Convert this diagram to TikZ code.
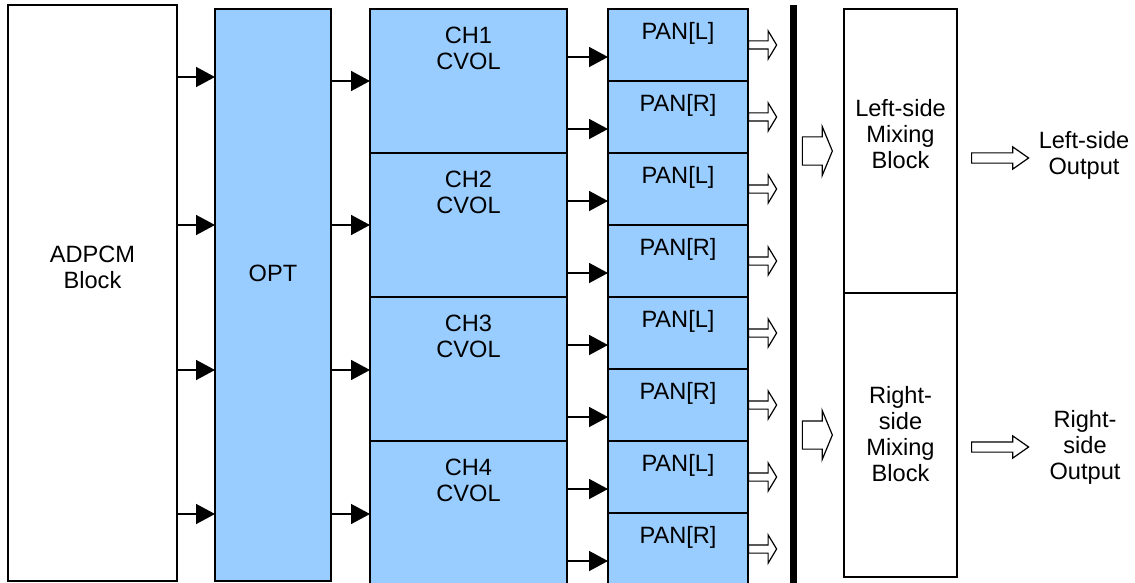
\documentclass[tikz,border=0pt]{standalone}
\usepackage{fontspec}
\setmainfont{Liberation Sans}
\usetikzlibrary{arrows.meta,positioning,shapes.arrows}
\definecolor{paleblue}{HTML}{99CCFF}

\begin{document}
\begin{tikzpicture}[x=1pt,y=-1pt,>={Triangle[length=19pt,width=20pt]},node distance=0pt,
box/.style={draw,line width=1.5pt,fill=white,inner sep=0pt,outer sep=0pt,anchor=north west},
unit/.style={box,fill=paleblue},
chbox/.style={unit,minimum width=197pt,minimum height=144pt},
panbox/.style={unit,minimum width=140pt,minimum height=72pt},
mixbox/.style={box,minimum width=113pt,minimum height=284pt},
lbl/.style={inner sep=0pt,align=center,font=\fontsize{23.6}{26}\selectfont},
feed/.style={->,line width=1.5pt},
hollow/.style={single arrow,draw,line width=1.2pt,fill=white,inner xsep=0pt,anchor=tail},
panout/.style={hollow,minimum height=28pt,inner ysep=3.5pt,single arrow head extend=10pt,single arrow tip angle=118},
mixin/.style={hollow,minimum height=30pt,inner ysep=13.5pt,single arrow head extend=10.5pt,single arrow tip angle=135},
mixout/.style={hollow,minimum height=57pt,inner ysep=4.5pt,single arrow head extend=6pt,single arrow tip angle=70}]
\useasboundingbox (0,0) rectangle (1135,583);
% source and option blocks
\node[box,minimum width=169pt,minimum height=576pt] (adpcm) at (8,5) {};
\node[lbl] (adpcmtxt) at ([yshift=26pt]adpcm.center) {ADPCM\\Block};
\node[unit,minimum width=116pt,minimum height=572pt] (opt) at (215,9) {};
\node[lbl] (opttxt) at ([yshift=22pt]opt.center) {OPT};
% channel volume
\node[chbox] (ch1) at (370,9) {};
\node[chbox,below=of ch1] (ch2) {};
\node[chbox,below=of ch2] (ch3) {};
\node[chbox,below=of ch3] (ch4) {};
\node[lbl] (ch1txt) at ([yshift=-39pt]ch1.north) {CH1\\CVOL};
\node[lbl] (ch2txt) at ([yshift=-39pt]ch2.north) {CH2\\CVOL};
\node[lbl] (ch3txt) at ([yshift=-39pt]ch3.north) {CH3\\CVOL};
\node[lbl] (ch4txt) at ([yshift=-39pt]ch4.north) {CH4\\CVOL};
% panning
\node[panbox] (pan1) at (608,9) {};
\node[panbox,below=of pan1] (pan2) {};
\node[panbox,below=of pan2] (pan3) {};
\node[panbox,below=of pan3] (pan4) {};
\node[panbox,below=of pan4] (pan5) {};
\node[panbox,below=of pan5] (pan6) {};
\node[panbox,below=of pan6] (pan7) {};
\node[panbox,below=of pan7] (pan8) {};
\node[lbl] (pan1txt) at ([yshift=-24pt]pan1.north) {PAN[L]};
\node[lbl] (pan2txt) at ([yshift=-24pt]pan2.north) {PAN[R]};
\node[lbl] (pan3txt) at ([yshift=-24pt]pan3.north) {PAN[L]};
\node[lbl] (pan4txt) at ([yshift=-24pt]pan4.north) {PAN[R]};
\node[lbl] (pan5txt) at ([yshift=-24pt]pan5.north) {PAN[L]};
\node[lbl] (pan6txt) at ([yshift=-24pt]pan6.north) {PAN[R]};
\node[lbl] (pan7txt) at ([yshift=-24pt]pan7.north) {PAN[L]};
\node[lbl] (pan8txt) at ([yshift=-24pt]pan8.north) {PAN[R]};
% bus and mixing
\node[fill=black,inner sep=0pt,outer sep=0pt,anchor=north west,minimum width=7pt,minimum height=580pt] (bus) at (790,5) {};
\node[mixbox] (lmix) at (844,9) {};
\node[mixbox,below=of lmix] (rmix) {};
\node[lbl] (lmixtxt) at ([yshift=17pt]lmix.center) {Left-side\\Mixing\\Block};
\node[lbl] (rmixtxt) at ([yshift=1pt]rmix.center) {Right-\\side\\Mixing\\Block};
\node[lbl] (louttxt) at (1084,155) {Left-side\\Output};
\node[lbl] (routtxt) at (1085,447) {Right-\\side\\Output};
% connections
\draw[feed] (adpcm.east |- 0,77) -- (opt.west |- 0,77);
\draw[feed] (adpcm.east |- 0,225) -- (opt.west |- 0,225);
\draw[feed] (adpcm.east |- 0,370) -- (opt.west |- 0,370);
\draw[feed] (adpcm.east |- 0,514) -- (opt.west |- 0,514);
\draw[feed] (opt.east |- 0,81) -- (ch1.west |- 0,81);
\draw[feed] (opt.east |- 0,225) -- (ch2.west |- 0,225);
\draw[feed] (opt.east |- 0,370) -- (ch3.west |- 0,370);
\draw[feed] (opt.east |- 0,514) -- (ch4.west |- 0,514);
\draw[feed] (ch1.east |- 0,57) -- (pan1.west |- 0,57);
\draw[feed] (ch1.east |- 0,129) -- (pan2.west |- 0,129);
\draw[feed] (ch2.east |- 0,201) -- (pan3.west |- 0,201);
\draw[feed] (ch2.east |- 0,273) -- (pan4.west |- 0,273);
\draw[feed] (ch3.east |- 0,345) -- (pan5.west |- 0,345);
\draw[feed] (ch3.east |- 0,417) -- (pan6.west |- 0,417);
\draw[feed] (ch4.east |- 0,489) -- (pan7.west |- 0,489);
\draw[feed] (ch4.east |- 0,561) -- (pan8.west |- 0,561);
% hollow outputs
\node[panout] (out1) at (pan1.east) {};
\node[panout] (out2) at (pan2.east) {};
\node[panout] (out3) at (pan3.east) {};
\node[panout] (out4) at (pan4.east) {};
\node[panout] (out5) at (pan5.east) {};
\node[panout] (out6) at (pan6.east) {};
\node[panout] (out7) at (pan7.east) {};
\node[panout] (out8) at (pan8.east) {};
\node[mixin,anchor=tip] (lin) at ([xshift=-11pt]lmix.west) {};
\node[mixin,anchor=tip] (rin) at ([xshift=-11pt]rmix.west) {};
\node[mixout] (lout) at (971,158) {};
\node[mixout] (rout) at (971,447) {};
\end{tikzpicture}
\end{document}
